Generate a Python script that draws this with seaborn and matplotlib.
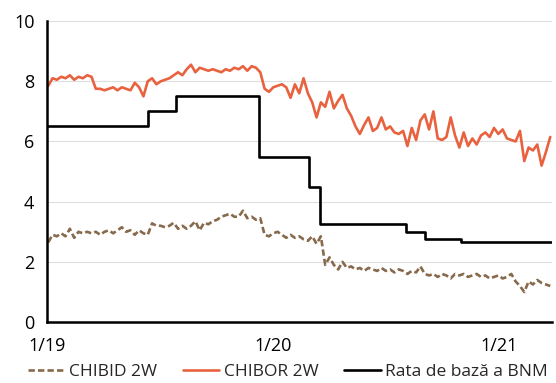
import numpy as np
import pandas as pd
import matplotlib
matplotlib.use("Agg")
import matplotlib.pyplot as plt
import matplotlib.dates as mdates
import seaborn as sns

# Weekly interbank rates (%), starting 3 Jan 2019
start_date = "2019-01-03"
chibor_2w = [
    7.85, 8.10, 8.05, 8.15, 8.10, 8.20, 8.05, 8.15, 8.10, 8.20,
    8.15, 7.75, 7.75, 7.70, 7.75, 7.80, 7.70, 7.80, 7.75, 7.70,
    7.95, 7.80, 7.50, 8.00, 8.10, 7.90, 8.00, 8.05, 8.10, 8.20,
    8.30, 8.20, 8.40, 8.55, 8.30, 8.45, 8.40, 8.35, 8.40, 8.35,
    8.30, 8.40, 8.35, 8.45, 8.40, 8.50, 8.35, 8.50, 8.45, 8.30,
    7.75, 7.65, 7.80, 7.85, 7.90, 7.80, 7.45, 7.90, 7.60, 8.10,
    7.60, 7.30, 6.80, 7.30, 7.15, 7.65, 7.10, 7.35, 7.55, 7.10,
    6.85, 6.50, 6.25, 6.55, 6.80, 6.35, 6.45, 6.80, 6.40, 6.50,
    6.30, 6.25, 6.35, 5.85, 6.45, 6.05, 6.70, 6.90, 6.40, 7.00,
    6.10, 6.05, 6.15, 6.80, 6.20, 5.80, 6.30, 5.85, 6.10, 5.90,
    6.20, 6.30, 6.15, 6.45, 6.25, 6.40, 6.10, 6.05, 6.00, 6.35,
    5.35, 5.80, 5.70, 5.90, 5.20, 5.65, 6.15,
]
chibid_2w = [
    2.65, 2.90, 2.85, 2.95, 2.85, 3.10, 2.80, 3.00, 2.95, 3.00,
    2.95, 3.00, 2.90, 3.00, 3.05, 2.95, 3.05, 3.15, 3.00, 3.05,
    2.90, 3.05, 2.95, 2.90, 3.28, 3.20, 3.20, 3.15, 3.20, 3.30,
    3.10, 3.20, 3.10, 3.20, 3.35, 3.05, 3.30, 3.25, 3.35, 3.40,
    3.50, 3.55, 3.60, 3.50, 3.50, 3.70, 3.45, 3.50, 3.40, 3.45,
    2.90, 2.85, 2.95, 3.00, 2.90, 2.80, 2.90, 2.80, 2.85, 2.75,
    2.70, 2.85, 2.60, 2.85, 1.90, 2.15, 1.90, 1.75, 2.00, 1.80,
    1.85, 1.75, 1.80, 1.70, 1.80, 1.75, 1.70, 1.80, 1.70, 1.75,
    1.65, 1.75, 1.70, 1.60, 1.70, 1.65, 1.85, 1.60, 1.55, 1.60,
    1.50, 1.60, 1.55, 1.45, 1.60, 1.55, 1.60, 1.50, 1.55, 1.60,
    1.50, 1.55, 1.45, 1.50, 1.55, 1.45, 1.50, 1.60, 1.35, 1.20,
    1.00, 1.35, 1.25, 1.40, 1.30, 1.25, 1.20,
]

# BNM base rate: effective dates and levels
base_dates = ["2019-01-01", "2019-06-14", "2019-07-29", "2019-12-10",
              "2020-02-28", "2020-03-17", "2020-08-03", "2020-09-03",
              "2020-11-01", "2021-03-26"]
base_rate = [6.5, 7.0, 7.5, 5.5, 4.5, 3.25, 3.0, 2.75, 2.65, 2.65]

x_ticks = ["2019-01-01", "2020-01-01", "2021-01-01"]
x_tick_labels = ["1/19", "1/20", "1/21"]
y_ticks = [0, 2, 4, 6, 8, 10]

label_bid = "CHIBID 2W"
label_bor = "CHIBOR 2W"
label_base = "Rata de bază a BNM"

weeks = pd.date_range(start_date, periods=len(chibor_2w), freq="7D")
rates = pd.DataFrame({"date": weeks, "bid": chibid_2w, "bor": chibor_2w})
base = pd.DataFrame({"date": pd.to_datetime(base_dates), "rate": base_rate})

sns.set_style("white")
plt.rcParams["font.family"] = ["Open Sans", "DejaVu Sans"]

fig = plt.figure(figsize=(5.56, 3.83), dpi=100)
ax = fig.add_axes([0.0845, 0.159, 0.9085, 0.786])

brown = "#87694B"
orange = "#E8623F"

sns.lineplot(data=rates, x="date", y="bid", ax=ax, color=brown, lw=1.9,
             label=label_bid)
ax.lines[-1].set_dashes([2.4, 1.2])
sns.lineplot(data=rates, x="date", y="bor", ax=ax, color=orange, lw=1.9,
             label=label_bor)
sns.lineplot(data=base, x="date", y="rate", ax=ax, color="black", lw=1.9,
             drawstyle="steps-post", label=label_base)

ax.set_xlim(pd.Timestamp("2019-01-01"), pd.Timestamp("2021-03-28"))
ax.set_ylim(0, 10)
ax.set_xticks(pd.to_datetime(x_ticks))
ax.set_xticklabels(x_tick_labels)
ax.set_yticks(y_ticks)
ax.set_xlabel("")
ax.set_ylabel("")

ax.grid(axis="y", color="#DEDEDE", lw=0.8)
ax.set_axisbelow(True)
for side in ["top", "right"]:
    ax.spines[side].set_visible(False)
for side in ["left", "bottom"]:
    ax.spines[side].set_color("black")
    ax.spines[side].set_linewidth(1.8)

ax.tick_params(axis="both", which="both", direction="out", length=5,
               width=1.2, color="black", labelsize=13, labelcolor="black")
ax.tick_params(axis="x", pad=6)
ax.tick_params(axis="y", pad=4)

handles = ax.get_legend().legend_handles
ax.get_legend().remove()
fig.legend(handles, [label_bid, label_bor, label_base],
           loc="center", bbox_to_anchor=(0.518, 0.029), ncol=3,
           frameon=False, fontsize=12.5, handlelength=2.1,
           handletextpad=0.25, columnspacing=1.5, borderaxespad=0,
           borderpad=0)

fig.savefig("out.png", dpi=100)
